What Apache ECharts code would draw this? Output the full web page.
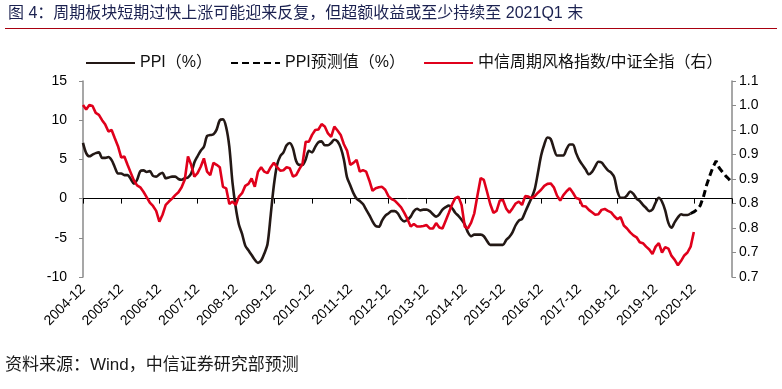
<!DOCTYPE html>
<html>
<head>
<meta charset="utf-8">
<script src="https://cdn.jsdelivr.net/npm/echarts@6/dist/echarts.min.js"></script>
<style>html,body{margin:0;padding:0;background:#fff;}#c{width:782px;height:389px;}</style>
</head>
<body>
<div id="c"></div>
<script>
// ---- categories: monthly 2004-12 .. 2021-12
const startYear = 2004, startMonth = 12, monthCount = 205;
const categories = [];
for (let i = 0; i < monthCount; i++) {
  const m0 = startMonth - 1 + i;
  const y = startYear + Math.floor(m0 / 12);
  const m = (m0 % 12) + 1;
  categories.push(y + '-' + (m < 10 ? '0' + m : m));
}
const lastLabel = '2020-12';

// PPI YoY (%), 2004-12 .. 2020-11
const ppi = [
  7.1,
  5.8,5.4,5.6,5.8,5.9,5.2,5.2,5.3,4.9,4.0,3.2,3.2,
  3.0,3.0,2.5,1.9,2.4,3.5,3.6,3.4,3.5,2.9,2.8,3.1,
  3.3,2.6,2.7,2.8,2.8,2.5,2.4,2.6,2.7,3.2,4.6,5.4,
  6.1,6.6,8.0,8.1,8.2,8.8,10.0,10.1,9.1,6.6,2.0,-1.1,
  -3.3,-4.5,-6.0,-6.6,-7.2,-7.8,-8.2,-7.9,-7.0,-5.8,-2.1,1.7,
  4.3,5.4,5.9,6.8,7.1,6.4,4.8,4.3,4.3,5.0,6.1,5.9,
  6.6,7.2,7.3,6.8,6.8,7.1,7.5,7.3,6.5,5.0,2.7,1.7,
  0.7,0.0,-0.3,-0.7,-1.4,-2.1,-2.9,-3.5,-3.6,-2.8,-2.2,-1.9,
  -1.6,-1.6,-1.9,-2.6,-2.9,-2.7,-2.3,-1.6,-1.3,-1.5,-1.4,-1.4,
  -1.6,-2.0,-2.3,-2.0,-1.4,-1.1,-0.9,-1.2,-1.8,-2.2,-2.7,-3.3,
  -4.3,-4.8,-4.6,-4.6,-4.6,-4.8,-5.4,-5.9,-5.9,-5.9,-5.9,-5.9,
  -5.3,-4.9,-4.3,-3.4,-2.8,-2.6,-1.7,-0.8,0.1,1.2,3.3,5.5,
  6.9,7.8,7.6,6.4,5.5,5.5,5.5,6.3,6.9,6.9,5.8,4.9,
  4.3,3.7,3.1,3.4,4.1,4.7,4.6,4.1,3.6,3.3,2.7,0.9,
  0.1,0.1,0.4,0.9,0.6,0.0,-0.3,-0.8,-1.2,-1.6,-1.4,-0.5,
  0.1,-0.4,-1.5,-3.1,-3.7,-3.0,-2.4,-2.0,-2.1,-2.1,-1.9
];

// PPI forecast (%), 2020-11 .. 2021-12
const forecastStart = '2020-11';
const ppiForecast = [-1.9,-1.7,-1.4,-0.9,0.2,1.7,2.9,4.0,4.8,3.9,3.4,2.9,2.5,2.0];

// CITIC cyclical style index / CSI All Share (right axis), 2004-12 .. 2020-12
const cyclicalRatio = [
  1.051,1.042,1.051,1.049,1.035,1.031,1.020,1.011,0.997,1.000,
  0.983,0.967,0.944,0.946,0.929,0.913,0.897,0.887,0.883,0.874,
  0.863,0.852,0.845,0.835,0.813,0.827,0.847,0.854,0.860,0.867,
  0.873,0.883,0.899,0.946,0.929,0.905,0.912,0.925,0.942,0.915,
  0.908,0.933,0.929,0.924,0.884,0.881,0.849,0.854,0.847,0.864,
  0.871,0.886,
  0.890,0.901,0.884,0.915,0.924,0.915,0.912,0.924,0.933,0.924,
  0.917,0.918,0.924,0.922,0.905,0.908,0.920,0.931,0.976,0.976,
  0.990,1.000,1.001,1.012,1.007,0.993,0.986,1.007,0.999,0.990,
  0.971,0.958,0.929,0.933,0.939,0.915,0.918,0.915,0.897,0.876,
  0.881,0.883,0.884,0.878,0.865,0.859,0.856,0.849,0.842,0.831,
  0.818,0.803,
  0.808,0.803,0.803,0.804,0.806,0.799,0.799,0.810,0.801,0.799,
  0.815,0.831,0.848,0.861,0.864,0.847,0.803,0.799,0.811,0.830,
  0.867,0.902,0.898,0.874,0.849,0.831,0.835,0.856,0.857,0.840,
  0.831,0.840,0.850,0.854,0.847,0.865,0.864,0.861,0.865,0.872,
  0.878,0.886,0.890,0.891,0.883,0.866,0.856,0.867,0.875,0.881,
  0.872,0.861,
  0.859,0.845,0.844,0.837,0.832,0.827,0.828,0.837,0.839,0.835,
  0.832,0.824,0.818,0.822,0.805,0.799,0.791,0.785,0.781,0.771,
  0.769,0.762,0.756,0.747,0.762,0.769,0.750,0.761,0.758,0.743,
  0.735,0.724,0.733,0.744,0.750,0.762,0.792
];

const leftTicks = {min: -10, max: 15, interval: 5};
const rightTicks = {min: 0.7, max: 1.1, interval: 0.05};
const rightTickLabels = ['0.7','0.7','0.8','0.8','0.9','0.9','1.0','1.0','1.1'];

const seriesNames = ['PPI（%）', 'PPI预测值（%）', '中信周期风格指数/中证全指（右）'];
const titleText = '图 4：周期板块短期过快上涨可能迎来反复，但超额收益或至少持续至 2021Q1 末';
const sourceText = '资料来源：Wind，中信证券研究部预测';

// ---- build aligned series
const fIdx = categories.indexOf(forecastStart);
const lastLabelIdx = categories.indexOf(lastLabel);
const forecastData = categories.map((c, i) => (i >= fIdx && i - fIdx < ppiForecast.length) ? ppiForecast[i - fIdx] : null);
const ppiData = categories.map((c, i) => i < ppi.length ? ppi[i] : null);
const redData = categories.map((c, i) => i < cyclicalRatio.length ? cyclicalRatio[i] : null);

const FONT = "'Liberation Sans', Arial, 'Noto Sans CJK SC', sans-serif";
const chart = echarts.init(document.getElementById('c'), null, {renderer: 'canvas'});
chart.setOption({
  backgroundColor: '#fff',
  animation: false,
  textStyle: {fontFamily: FONT},
  graphic: [
    {type: 'text', left: 8, top: 6, style: {text: titleText, font: "16px 'Liberation Sans', 'Noto Sans CJK SC', sans-serif", fill: '#1b2150'}},
    {type: 'line', shape: {x1: 5, y1: 28.5, x2: 777, y2: 28.5}, style: {stroke: '#a8000f', lineWidth: 1}},
    {type: 'text', left: 5, top: 357, style: {text: sourceText, font: "17px 'Liberation Sans', 'Noto Sans CJK SC', sans-serif", fill: '#1a1a1a'}}
  ],
  legend: {
    left: 85, top: 55, padding: 0, itemWidth: 49, itemHeight: 14, itemGap: 18,
    itemStyle: {opacity: 0, color: 'rgba(0,0,0,0)', borderWidth: 0},
    textStyle: {fontSize: 16, color: '#111', fontFamily: FONT},
    data: seriesNames
  },
  grid: {left: 83, right: 50, top: 81, bottom: 112, containLabel: false},
  xAxis: [
    {
      type: 'category', data: categories, boundaryGap: false, position: 'bottom',
      axisLine: {show: false, onZero: false},
      axisTick: {show: false},
      axisLabel: {interval: (idx) => idx % 12 === 0 && idx <= lastLabelIdx, rotate: 45, fontSize: 14, color: '#000', margin: 10, fontFamily: FONT},
      splitLine: {show: false}
    },
    {
      type: 'category', data: categories, boundaryGap: false, position: 'top',
      axisLine: {show: true, onZero: true, onZeroAxisIndex: 0, lineStyle: {color: '#000', width: 1}},
      axisTick: {show: true, interval: 11, inside: true, length: 5, lineStyle: {color: '#000', width: 1}},
      axisLabel: {show: false},
      splitLine: {show: false}
    }
  ],
  yAxis: [
    {
      type: 'value', min: leftTicks.min, max: leftTicks.max, interval: leftTicks.interval, position: 'left',
      axisLine: {show: true, lineStyle: {color: '#8a8a8a', width: 1.5}},
      axisTick: {show: true, length: 4, lineStyle: {color: '#8a8a8a', width: 1}},
      axisLabel: {fontSize: 14, color: '#000', margin: 16, fontFamily: FONT},
      splitLine: {show: false}
    },
    {
      type: 'value', min: rightTicks.min, max: rightTicks.max, interval: rightTicks.interval, position: 'right',
      axisLine: {show: true, lineStyle: {color: '#8a8a8a', width: 1.5}},
      axisTick: {show: true, length: 4, lineStyle: {color: '#8a8a8a', width: 1}},
      axisLabel: {fontSize: 14, color: '#000', margin: 7, fontFamily: FONT,
        formatter: v => rightTickLabels[Math.round((v - rightTicks.min) / rightTicks.interval)] || ''},
      splitLine: {show: false}
    }
  ],
  series: [
    {name: seriesNames[0], type: 'line', data: ppiData, yAxisIndex: 0, xAxisIndex: 0, symbol: 'none', smooth: 0.3,
     lineStyle: {color: '#231815', width: 2.6}, itemStyle: {color: '#231815'}},
    {name: seriesNames[1], type: 'line', data: forecastData, yAxisIndex: 0, xAxisIndex: 0, symbol: 'none',
     lineStyle: {color: '#000', width: 3, type: [7, 4]}, itemStyle: {color: '#000'}},
    {name: seriesNames[2], type: 'line', data: redData, yAxisIndex: 1, xAxisIndex: 0, symbol: 'none',
     lineStyle: {color: '#e0001b', width: 2.6}, itemStyle: {color: '#e0001b'}}
  ]
});
</script>
</body>
</html>
